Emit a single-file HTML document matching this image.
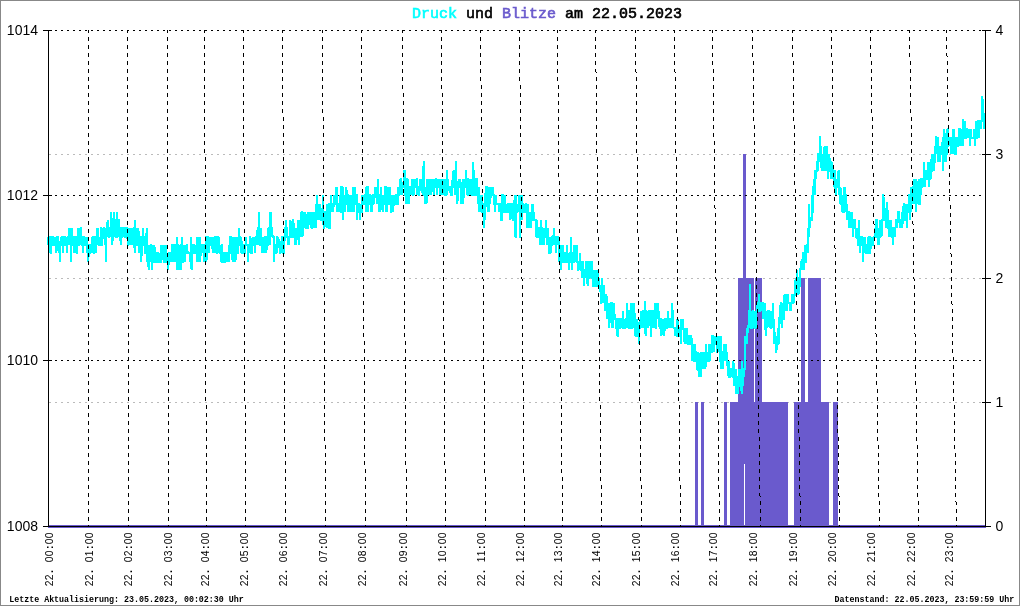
<!DOCTYPE html>
<html><head><meta charset="utf-8"><title>Druck und Blitze</title>
<style>html,body{margin:0;padding:0;background:#fff}svg{display:block;will-change:transform}text{font-family:"Liberation Sans",sans-serif}.m{font-family:"Liberation Mono",monospace}</style></head><body>
<svg width="1020" height="606" viewBox="0 0 1020 606">
<rect x="0" y="0" width="1020" height="606" fill="#fff"/>
<g shape-rendering="crispEdges">
<rect x="0.5" y="0.5" width="1019" height="605" fill="none" stroke="#888" stroke-width="1"/>
<line x1="49" y1="402.5" x2="985" y2="402.5" stroke="#bbb" stroke-width="1" stroke-dasharray="2 4"/>
<line x1="49" y1="278.5" x2="985" y2="278.5" stroke="#bbb" stroke-width="1" stroke-dasharray="2 4"/>
<line x1="49" y1="154.5" x2="985" y2="154.5" stroke="#bbb" stroke-width="1" stroke-dasharray="2 4"/>
<rect x="695" y="402" width="3" height="124" fill="#6a5acd"/>
<rect x="701" y="402" width="3" height="124" fill="#6a5acd"/>
<rect x="724" y="402" width="3" height="124" fill="#6a5acd"/>
<rect x="730" y="402" width="58" height="124" fill="#6a5acd"/>
<rect x="794" y="402" width="35" height="124" fill="#6a5acd"/>
<rect x="833" y="402" width="5" height="124" fill="#6a5acd"/>
<rect x="738" y="278" width="16" height="248" fill="#6a5acd"/>
<rect x="755" y="278" width="7" height="248" fill="#6a5acd"/>
<rect x="801" y="278" width="4" height="248" fill="#6a5acd"/>
<rect x="808" y="278" width="13" height="248" fill="#6a5acd"/>
<rect x="743" y="154" width="3" height="372" fill="#6a5acd"/>
<rect x="744" y="464" width="1" height="62" fill="#fff"/>
<rect x="48" y="525" width="938" height="3" fill="#6a5acd"/>
<line x1="49" y1="30.5" x2="985" y2="30.5" stroke="#000" stroke-width="1" stroke-dasharray="2 4"/>
<line x1="49" y1="195.5" x2="985" y2="195.5" stroke="#000" stroke-width="1" stroke-dasharray="2 4"/>
<line x1="49" y1="360.5" x2="985" y2="360.5" stroke="#000" stroke-width="1" stroke-dasharray="2 4"/>
<line x1="49" y1="526.5" x2="985" y2="526.5" stroke="#000" stroke-width="1" stroke-dasharray="2 4"/>
</g>
<polyline shape-rendering="crispEdges" fill="none" stroke="#00ffff" stroke-width="2" stroke-linejoin="miter" points="48.00,244.9 48.33,236.7 48.65,244.9 48.98,244.9 49.30,236.7 49.63,236.7 49.95,253.2 50.28,236.7 50.60,253.2 50.93,253.2 51.25,236.7 51.58,244.9 51.91,236.7 52.23,236.7 52.56,236.7 52.88,236.7 53.21,244.9 53.53,244.9 53.86,244.9 54.18,244.9 54.51,244.9 54.83,236.7 55.16,244.9 55.49,236.7 55.81,244.9 56.14,244.9 56.46,253.2 56.79,236.7 57.11,236.7 57.44,236.7 57.76,236.7 58.09,244.9 58.41,244.9 58.74,244.9 59.07,253.2 59.39,244.9 59.72,253.2 60.04,261.5 60.37,244.9 60.69,236.7 61.02,244.9 61.34,244.9 61.67,244.9 61.99,244.9 62.32,236.7 62.65,236.7 62.97,253.2 63.30,236.7 63.62,244.9 63.95,244.9 64.27,244.9 64.60,236.7 64.92,236.7 65.25,244.9 65.57,236.7 65.90,244.9 66.23,244.9 66.55,244.9 66.88,236.7 67.20,253.2 67.53,236.7 67.85,236.7 68.18,244.9 68.50,236.7 68.83,236.7 69.15,244.9 69.48,228.4 69.81,236.7 70.13,244.9 70.46,236.7 70.78,228.4 71.11,261.5 71.43,236.7 71.76,244.9 72.08,228.4 72.41,244.9 72.73,244.9 73.06,244.9 73.39,236.7 73.71,253.2 74.04,236.7 74.36,236.7 74.69,244.9 75.01,236.7 75.34,236.7 75.66,253.2 75.99,244.9 76.32,244.9 76.64,236.7 76.97,253.2 77.29,253.2 77.62,228.4 77.94,236.7 78.27,244.9 78.59,244.9 78.92,236.7 79.24,228.4 79.57,244.9 79.90,236.7 80.22,244.9 80.55,236.7 80.87,228.4 81.20,228.4 81.52,236.7 81.85,244.9 82.17,244.9 82.50,236.7 82.82,244.9 83.15,253.2 83.48,244.9 83.80,244.9 84.13,236.7 84.45,236.7 84.78,244.9 85.10,244.9 85.43,236.7 85.75,244.9 86.08,244.9 86.40,236.7 86.73,244.9 87.06,236.7 87.38,253.2 87.71,244.9 88.03,244.9 88.36,261.5 88.68,253.2 89.01,253.2 89.33,253.2 89.66,253.2 89.98,253.2 90.31,244.9 90.64,244.9 90.96,253.2 91.29,244.9 91.61,253.2 91.94,236.7 92.26,253.2 92.59,244.9 92.91,244.9 93.24,236.7 93.56,236.7 93.89,253.2 94.22,253.2 94.54,236.7 94.87,244.9 95.19,236.7 95.52,236.7 95.84,253.2 96.17,244.9 96.49,236.7 96.82,228.4 97.14,236.7 97.47,236.7 97.80,228.4 98.12,244.9 98.45,236.7 98.77,244.9 99.10,236.7 99.42,244.9 99.75,244.9 100.07,236.7 100.40,244.9 100.72,244.9 101.05,228.4 101.38,228.4 101.70,244.9 102.03,244.9 102.35,228.4 102.68,236.7 103.00,228.4 103.33,236.7 103.65,236.7 103.98,228.4 104.30,228.4 104.63,244.9 104.96,236.7 105.28,236.7 105.61,228.4 105.93,261.7 106.26,228.4 106.58,236.7 106.91,228.4 107.23,236.7 107.56,220.1 107.88,228.4 108.21,228.4 108.54,236.7 108.86,228.4 109.19,236.7 109.51,236.7 109.84,228.4 110.16,228.4 110.49,228.4 110.81,220.1 111.14,211.9 111.46,220.1 111.79,228.4 112.12,228.4 112.44,244.9 112.77,228.4 113.09,228.4 113.42,220.1 113.74,211.9 114.07,236.7 114.39,220.1 114.72,220.1 115.04,228.4 115.37,228.4 115.70,228.4 116.02,228.4 116.35,236.7 116.67,236.7 117.00,211.9 117.32,220.1 117.65,220.1 117.97,236.7 118.30,228.4 118.62,236.7 118.95,220.1 119.28,220.1 119.60,236.7 119.93,228.4 120.25,228.4 120.58,244.9 120.90,228.4 121.23,228.4 121.55,236.7 121.88,236.7 122.20,228.4 122.53,228.4 122.86,236.7 123.18,228.4 123.51,228.4 123.83,236.7 124.16,228.4 124.48,236.7 124.81,236.7 125.13,228.4 125.46,228.4 125.78,236.7 126.11,228.4 126.44,228.4 126.76,228.4 127.09,228.4 127.41,236.7 127.74,244.9 128.06,244.9 128.39,236.7 128.71,236.7 129.04,236.7 129.37,228.4 129.69,236.7 130.02,244.9 130.34,236.7 130.67,236.7 130.99,228.4 131.32,236.7 131.64,236.7 131.97,228.4 132.29,244.9 132.62,228.4 132.95,236.7 133.27,244.9 133.60,228.4 133.92,228.4 134.25,228.4 134.57,253.2 134.90,220.1 135.22,236.7 135.55,236.7 135.87,228.4 136.20,236.7 136.53,244.9 136.85,244.9 137.18,236.7 137.50,228.4 137.83,244.9 138.15,244.9 138.48,228.4 138.80,253.2 139.13,236.7 139.45,244.9 139.78,244.9 140.11,253.2 140.43,236.7 140.76,236.7 141.08,244.9 141.41,261.5 141.73,244.9 142.06,236.7 142.38,244.9 142.71,244.9 143.03,244.9 143.36,228.4 143.69,244.9 144.01,244.9 144.34,236.7 144.66,244.9 144.99,236.7 145.31,253.2 145.64,253.2 145.96,244.9 146.29,244.9 146.61,228.4 146.94,253.2 147.27,261.5 147.59,253.2 147.92,244.9 148.24,253.2 148.57,269.7 148.89,253.2 149.22,269.7 149.54,244.9 149.87,253.2 150.19,261.5 150.52,253.2 150.85,244.9 151.17,244.9 151.50,261.5 151.82,269.7 152.15,253.2 152.47,261.5 152.80,244.9 153.12,253.2 153.45,261.5 153.77,261.5 154.10,261.5 154.43,244.9 154.75,253.2 155.08,261.5 155.40,261.5 155.73,253.2 156.05,253.2 156.38,261.5 156.70,261.5 157.03,253.2 157.35,261.5 157.68,253.2 158.01,253.2 158.33,253.2 158.66,261.5 158.98,261.5 159.31,261.5 159.63,261.5 159.96,253.2 160.28,261.5 160.61,261.5 160.93,244.9 161.26,253.2 161.59,253.2 161.91,253.2 162.24,253.2 162.56,253.2 162.89,253.2 163.21,244.9 163.54,261.5 163.86,253.2 164.19,261.5 164.51,261.5 164.84,261.5 165.17,261.5 165.49,244.9 165.82,253.2 166.14,253.2 166.47,253.2 166.79,261.5 167.12,253.2 167.44,261.5 167.77,261.5 168.09,261.5 168.42,269.7 168.75,253.2 169.07,261.5 169.40,253.2 169.72,253.2 170.05,253.2 170.37,261.5 170.70,253.2 171.02,253.2 171.35,261.5 171.67,253.2 172.00,261.5 172.33,244.9 172.65,244.9 172.98,261.5 173.30,253.2 173.63,253.2 173.95,244.9 174.28,244.9 174.60,261.5 174.93,253.2 175.25,244.9 175.58,253.2 175.91,244.9 176.23,244.9 176.56,253.2 176.88,236.7 177.21,269.7 177.53,244.9 177.86,244.9 178.18,253.2 178.51,244.9 178.84,253.2 179.16,269.7 179.49,253.2 179.81,261.5 180.14,253.2 180.46,261.5 180.79,244.9 181.11,244.9 181.44,269.7 181.76,236.7 182.09,253.2 182.42,261.5 182.74,261.5 183.07,253.2 183.39,244.9 183.72,253.2 184.04,244.9 184.37,253.2 184.69,244.9 185.02,261.5 185.34,253.2 185.67,253.2 186.00,253.2 186.32,244.9 186.65,253.2 186.97,244.9 187.30,244.9 187.62,253.2 187.95,253.2 188.27,253.2 188.60,253.2 188.92,253.2 189.25,253.2 189.58,253.2 189.90,261.5 190.23,253.2 190.55,253.2 190.88,244.9 191.20,236.7 191.53,269.7 191.85,261.5 192.18,253.2 192.50,244.9 192.83,253.2 193.16,253.2 193.48,244.9 193.81,244.9 194.13,253.2 194.46,253.2 194.78,253.2 195.11,244.9 195.43,253.2 195.76,244.9 196.08,253.2 196.41,244.9 196.74,253.2 197.06,261.5 197.39,236.7 197.71,244.9 198.04,236.7 198.36,244.9 198.69,261.5 199.01,253.2 199.34,244.9 199.66,244.9 199.99,236.7 200.32,261.5 200.64,253.2 200.97,244.9 201.29,244.9 201.62,253.2 201.94,244.9 202.27,253.2 202.59,244.9 202.92,253.2 203.24,244.9 203.57,244.9 203.90,261.5 204.22,253.2 204.55,244.9 204.87,244.9 205.20,244.9 205.52,253.2 205.85,236.7 206.17,236.7 206.50,261.5 206.82,236.7 207.15,244.9 207.48,236.7 207.80,244.9 208.13,236.7 208.45,236.7 208.78,253.2 209.10,236.7 209.43,244.9 209.75,236.7 210.08,244.9 210.40,244.9 210.73,244.9 211.06,244.9 211.38,236.7 211.71,244.9 212.03,244.9 212.36,244.9 212.68,253.2 213.01,236.7 213.33,244.9 213.66,244.9 213.98,253.2 214.31,236.7 214.64,253.2 214.96,244.9 215.29,236.7 215.61,236.7 215.94,244.9 216.26,236.7 216.59,253.2 216.91,253.2 217.24,244.9 217.56,236.7 217.89,236.7 218.22,244.9 218.54,236.7 218.87,244.9 219.19,253.2 219.52,244.9 219.84,253.2 220.17,244.9 220.49,253.2 220.82,261.5 221.14,253.2 221.47,261.5 221.80,244.9 222.12,244.9 222.45,261.5 222.77,261.5 223.10,253.2 223.42,261.5 223.75,253.2 224.07,261.5 224.40,253.2 224.72,253.2 225.05,261.5 225.38,261.5 225.70,253.2 226.03,253.2 226.35,253.2 226.68,253.2 227.00,261.5 227.33,253.2 227.65,253.2 227.98,253.2 228.30,253.2 228.63,261.5 228.96,253.2 229.28,244.9 229.61,253.2 229.93,253.2 230.26,236.7 230.58,236.7 230.91,244.9 231.23,253.2 231.56,244.9 231.89,244.9 232.21,236.7 232.54,261.5 232.86,253.2 233.19,261.5 233.51,253.2 233.84,244.9 234.16,244.9 234.49,236.7 234.81,244.9 235.14,244.9 235.47,261.5 235.79,244.9 236.12,244.9 236.44,244.9 236.77,236.7 237.09,253.2 237.42,253.2 237.74,253.2 238.07,253.2 238.39,253.2 238.72,228.4 239.05,244.9 239.37,236.7 239.70,244.9 240.02,236.7 240.35,236.7 240.67,253.2 241.00,244.9 241.32,236.7 241.65,244.9 241.97,253.2 242.30,253.2 242.63,244.9 242.95,244.9 243.28,244.9 243.60,244.9 243.93,244.9 244.25,253.2 244.58,253.2 244.90,244.9 245.23,244.9 245.55,244.9 245.88,236.7 246.21,244.9 246.53,244.9 246.86,244.9 247.18,244.9 247.51,244.9 247.83,261.5 248.16,244.9 248.48,244.9 248.81,244.9 249.13,244.9 249.46,253.2 249.79,244.9 250.11,236.7 250.44,236.7 250.76,244.9 251.09,253.2 251.41,253.2 251.74,253.2 252.06,244.9 252.39,244.9 252.71,244.9 253.04,244.9 253.37,236.7 253.69,244.9 254.02,244.9 254.34,236.7 254.67,253.2 254.99,244.9 255.32,253.2 255.64,236.7 255.97,244.9 256.29,236.7 256.62,236.7 256.95,236.7 257.27,236.7 257.60,228.4 257.92,228.4 258.25,244.9 258.57,236.7 258.90,236.7 259.22,211.9 259.55,244.9 259.87,244.9 260.20,244.9 260.53,236.7 260.85,236.7 261.18,228.4 261.50,244.9 261.83,253.2 262.15,244.9 262.48,236.7 262.80,253.2 263.13,236.7 263.45,244.9 263.78,236.7 264.11,253.2 264.43,236.7 264.76,244.9 265.08,244.9 265.41,236.7 265.73,236.7 266.06,236.7 266.38,253.2 266.71,244.9 267.03,236.7 267.36,244.9 267.69,244.9 268.01,228.4 268.34,236.7 268.66,236.7 268.99,236.7 269.31,228.4 269.64,228.4 269.96,212.5 270.29,244.9 270.61,228.4 270.94,236.7 271.27,211.9 271.59,236.7 271.92,228.4 272.24,228.4 272.57,236.7 272.89,236.7 273.22,236.7 273.54,236.7 273.87,261.5 274.19,236.7 274.52,244.9 274.85,253.2 275.17,244.9 275.50,253.2 275.82,253.2 276.15,244.9 276.47,244.9 276.80,253.2 277.12,236.7 277.45,236.7 277.77,244.9 278.10,244.9 278.43,236.7 278.75,244.9 279.08,244.9 279.40,244.9 279.73,253.2 280.05,253.2 280.38,253.2 280.70,244.9 281.03,253.2 281.35,244.9 281.68,236.7 282.01,236.7 282.33,244.9 282.66,236.7 282.98,236.7 283.31,253.2 283.63,253.2 283.96,236.7 284.28,253.2 284.61,236.7 284.94,228.4 285.26,228.4 285.59,236.7 285.91,220.1 286.24,236.7 286.56,228.4 286.89,228.4 287.21,236.7 287.54,236.7 287.86,244.9 288.19,236.7 288.52,236.7 288.84,236.7 289.17,244.9 289.49,236.7 289.82,228.4 290.14,228.4 290.47,220.1 290.79,228.4 291.12,236.7 291.44,236.7 291.77,228.4 292.10,236.7 292.42,236.7 292.75,236.7 293.07,220.1 293.40,220.1 293.72,228.4 294.05,236.7 294.37,228.4 294.70,244.9 295.02,228.4 295.35,236.7 295.68,228.4 296.00,236.7 296.33,244.9 296.65,236.7 296.98,236.7 297.30,228.4 297.63,236.7 297.95,220.1 298.28,228.4 298.60,236.7 298.93,244.9 299.26,220.1 299.58,228.4 299.91,236.7 300.23,220.1 300.56,228.4 300.88,211.9 301.21,220.1 301.53,228.4 301.86,211.9 302.18,211.9 302.51,236.7 302.84,220.1 303.16,211.9 303.49,220.1 303.81,220.1 304.14,220.1 304.46,228.4 304.79,220.1 305.11,228.4 305.44,211.9 305.76,220.1 306.09,228.4 306.42,228.4 306.74,228.4 307.07,220.1 307.39,220.1 307.72,228.4 308.04,228.4 308.37,211.9 308.69,220.1 309.02,211.9 309.34,220.1 309.67,220.1 310.00,220.1 310.32,220.1 310.65,228.4 310.97,220.1 311.30,211.9 311.62,228.4 311.95,228.4 312.27,220.1 312.60,228.4 312.92,220.1 313.25,211.9 313.58,220.1 313.90,228.4 314.23,220.1 314.55,220.1 314.88,228.4 315.20,220.1 315.53,211.9 315.85,228.4 316.18,220.1 316.50,203.6 316.83,211.9 317.16,195.0 317.48,211.9 317.81,220.1 318.13,211.9 318.46,203.6 318.78,211.9 319.11,211.9 319.43,220.1 319.76,211.9 320.08,211.9 320.41,203.6 320.74,220.1 321.06,220.1 321.39,211.9 321.71,211.9 322.04,220.1 322.36,220.1 322.69,195.3 323.01,211.9 323.34,220.1 323.66,228.4 323.99,228.4 324.32,211.9 324.64,211.9 324.97,220.1 325.29,211.9 325.62,220.1 325.94,220.1 326.27,220.1 326.59,228.4 326.92,203.6 327.24,228.4 327.57,220.1 327.90,211.9 328.22,220.1 328.55,203.6 328.87,203.6 329.20,228.4 329.52,228.4 329.85,211.9 330.17,203.6 330.50,203.6 330.82,203.6 331.15,195.3 331.48,211.9 331.80,203.6 332.13,211.9 332.45,203.6 332.78,203.6 333.10,203.6 333.43,211.9 333.75,195.3 334.08,203.6 334.41,203.6 334.73,203.6 335.06,203.6 335.38,203.6 335.71,187.1 336.03,203.6 336.36,195.3 336.68,211.9 337.01,187.1 337.33,195.3 337.66,211.9 337.99,203.6 338.31,203.6 338.64,203.6 338.96,203.6 339.29,211.9 339.61,203.6 339.94,195.3 340.26,203.6 340.59,211.9 340.91,211.9 341.24,187.1 341.57,187.1 341.89,195.3 342.22,211.9 342.54,203.6 342.87,220.1 343.19,187.1 343.52,195.3 343.84,203.6 344.17,203.6 344.49,203.6 344.82,211.9 345.15,203.6 345.47,203.6 345.80,195.3 346.12,203.6 346.45,186.7 346.77,203.6 347.10,203.6 347.42,195.3 347.75,211.9 348.07,195.3 348.40,195.3 348.73,203.6 349.05,203.6 349.38,195.3 349.70,211.9 350.03,203.6 350.35,195.3 350.68,211.9 351.00,195.3 351.33,203.6 351.65,195.3 351.98,203.6 352.31,211.9 352.63,187.1 352.96,211.9 353.28,203.6 353.61,187.1 353.93,195.3 354.26,211.9 354.58,195.3 354.91,203.6 355.23,187.1 355.56,203.6 355.89,203.6 356.21,203.6 356.54,195.3 356.86,195.3 357.19,220.1 357.51,211.9 357.84,211.9 358.16,211.9 358.49,211.9 358.81,203.6 359.14,203.6 359.47,203.6 359.79,220.1 360.12,211.9 360.44,203.6 360.77,211.9 361.09,211.9 361.42,211.9 361.74,211.9 362.07,203.6 362.39,195.3 362.72,203.6 363.05,195.3 363.37,203.6 363.70,195.3 364.02,203.6 364.35,203.6 364.67,195.3 365.00,203.6 365.32,195.3 365.65,195.3 365.97,211.9 366.30,187.1 366.63,203.6 366.95,203.6 367.28,187.1 367.60,187.1 367.93,203.6 368.25,211.9 368.58,195.3 368.90,203.6 369.23,203.6 369.55,203.6 369.88,195.3 370.21,195.3 370.53,195.3 370.86,203.6 371.18,195.3 371.51,211.9 371.83,203.6 372.16,203.6 372.48,203.6 372.81,203.6 373.13,203.6 373.46,195.3 373.79,195.3 374.11,203.6 374.44,195.3 374.76,195.3 375.09,187.1 375.41,195.3 375.74,195.3 376.06,187.1 376.39,195.3 376.71,203.6 377.04,195.3 377.37,195.3 377.69,178.8 378.02,203.6 378.34,195.3 378.67,195.3 378.99,211.9 379.32,195.3 379.64,211.9 379.97,203.6 380.29,211.9 380.62,187.1 380.95,195.3 381.27,187.1 381.60,203.6 381.92,195.3 382.25,203.6 382.57,211.9 382.90,195.3 383.22,203.6 383.55,203.6 383.87,195.3 384.20,203.6 384.53,203.6 384.85,195.3 385.18,187.1 385.50,187.1 385.83,187.1 386.15,211.9 386.48,195.3 386.80,195.3 387.13,211.9 387.46,195.3 387.78,187.1 388.11,195.3 388.43,203.6 388.76,195.3 389.08,187.1 389.41,203.6 389.73,203.6 390.06,195.3 390.38,187.1 390.71,211.9 391.04,211.9 391.36,211.9 391.69,195.3 392.01,203.6 392.34,195.3 392.66,203.6 392.99,203.6 393.31,211.9 393.64,203.6 393.96,195.3 394.29,203.6 394.62,195.3 394.94,203.6 395.27,203.6 395.59,195.3 395.92,195.3 396.24,195.3 396.57,195.3 396.89,203.6 397.22,203.6 397.54,203.6 397.87,203.6 398.20,187.1 398.52,195.3 398.85,195.3 399.17,187.1 399.50,195.3 399.82,187.1 400.15,178.8 400.47,195.3 400.80,187.1 401.12,178.8 401.45,178.8 401.78,195.3 402.10,187.1 402.43,187.1 402.75,187.1 403.08,187.1 403.40,187.1 403.73,187.1 404.05,170.5 404.38,187.1 404.70,187.1 405.03,170.5 405.36,195.3 405.68,195.3 406.01,203.6 406.33,178.8 406.66,178.8 406.98,178.8 407.31,187.1 407.63,178.8 407.96,195.3 408.28,203.6 408.61,195.3 408.94,187.1 409.26,203.6 409.59,187.1 409.91,187.1 410.24,187.1 410.56,195.3 410.89,187.1 411.21,187.1 411.54,187.1 411.86,195.3 412.19,187.1 412.52,178.8 412.84,195.3 413.17,195.3 413.49,187.1 413.82,195.3 414.14,178.8 414.47,187.1 414.79,187.1 415.12,187.1 415.44,187.1 415.77,178.8 416.10,187.1 416.42,187.1 416.75,178.8 417.07,178.8 417.40,195.3 417.72,187.1 418.05,187.1 418.37,195.3 418.70,187.1 419.02,195.3 419.35,195.3 419.68,187.1 420.00,178.8 420.33,187.1 420.65,187.1 420.98,178.8 421.30,187.1 421.63,187.1 421.95,178.8 422.28,187.1 422.60,195.3 422.93,187.1 423.26,187.1 423.58,161.0 423.91,195.3 424.23,195.3 424.56,187.1 424.88,203.6 425.21,195.3 425.53,195.3 425.86,195.3 426.18,195.3 426.51,203.6 426.84,195.3 427.16,178.8 427.49,195.3 427.81,178.8 428.14,187.1 428.46,178.8 428.79,195.3 429.11,187.1 429.44,178.8 429.76,195.3 430.09,187.1 430.42,178.8 430.74,195.3 431.07,187.1 431.39,187.1 431.72,187.1 432.04,187.1 432.37,178.8 432.69,187.1 433.02,187.1 433.34,187.1 433.67,195.3 434.00,178.8 434.32,187.1 434.65,187.1 434.97,187.1 435.30,187.1 435.62,178.8 435.95,178.8 436.27,187.1 436.60,187.1 436.92,195.3 437.25,178.8 437.58,187.1 437.90,187.1 438.23,187.1 438.55,187.1 438.88,178.8 439.20,187.1 439.53,187.1 439.85,195.3 440.18,187.1 440.51,187.1 440.83,178.8 441.16,187.1 441.48,195.3 441.81,187.1 442.13,178.8 442.46,187.1 442.78,178.8 443.11,187.1 443.43,195.3 443.76,178.8 444.09,195.3 444.41,178.8 444.74,195.3 445.06,187.1 445.39,195.3 445.71,195.3 446.04,178.8 446.36,195.3 446.69,187.1 447.01,170.5 447.34,195.3 447.67,187.1 447.99,178.8 448.32,187.1 448.64,187.1 448.97,187.1 449.29,187.1 449.62,187.1 449.94,187.1 450.27,187.1 450.59,195.3 450.92,195.3 451.25,187.1 451.57,195.3 451.90,195.3 452.22,187.1 452.55,178.8 452.87,187.1 453.20,187.1 453.52,170.5 453.85,187.1 454.17,178.8 454.50,187.1 454.83,187.1 455.15,195.3 455.48,178.8 455.80,187.1 456.13,161.0 456.45,178.8 456.78,187.1 457.10,195.3 457.43,203.6 457.75,195.3 458.08,195.3 458.41,187.1 458.73,187.1 459.06,178.8 459.38,187.1 459.71,187.1 460.03,187.1 460.36,178.8 460.68,187.1 461.01,203.6 461.33,195.3 461.66,195.3 461.99,203.6 462.31,187.1 462.64,178.8 462.96,187.1 463.29,203.6 463.61,195.3 463.94,178.8 464.26,187.1 464.59,187.1 464.91,187.1 465.24,187.1 465.57,187.1 465.89,170.5 466.22,178.8 466.54,187.1 466.87,195.3 467.19,178.8 467.52,195.3 467.84,195.3 468.17,178.8 468.49,178.8 468.82,187.1 469.15,187.1 469.47,187.1 469.80,187.1 470.12,178.8 470.45,195.3 470.77,187.1 471.10,187.1 471.42,187.1 471.75,195.3 472.07,195.3 472.40,178.8 472.73,187.1 473.05,162.3 473.38,187.1 473.70,170.5 474.03,187.1 474.35,195.3 474.68,195.3 475.00,187.1 475.33,195.3 475.65,195.3 475.98,187.1 476.31,178.8 476.63,178.8 476.96,187.1 477.28,195.3 477.61,195.3 477.93,187.1 478.26,203.6 478.58,187.1 478.91,203.6 479.23,211.9 479.56,203.6 479.89,211.9 480.21,203.6 480.54,203.6 480.86,203.6 481.19,203.6 481.51,195.3 481.84,203.6 482.16,203.6 482.49,211.9 482.81,211.9 483.14,203.6 483.47,203.6 483.79,211.9 484.12,211.9 484.44,228.0 484.77,195.3 485.09,211.9 485.42,195.3 485.74,187.1 486.07,203.6 486.39,187.1 486.72,187.1 487.05,187.1 487.37,203.6 487.70,211.9 488.02,187.1 488.35,195.3 488.67,211.9 489.00,195.3 489.32,187.1 489.65,203.6 489.97,187.1 490.30,203.6 490.63,195.3 490.95,195.3 491.28,187.1 491.60,195.3 491.93,195.3 492.25,195.3 492.58,187.1 492.90,195.3 493.23,195.3 493.56,195.3 493.88,203.6 494.21,203.6 494.53,203.6 494.86,211.9 495.18,195.3 495.51,203.6 495.83,203.6 496.16,195.3 496.48,203.6 496.81,203.6 497.14,203.6 497.46,203.6 497.79,203.6 498.11,203.6 498.44,203.6 498.76,203.6 499.09,211.9 499.41,203.6 499.74,211.9 500.06,203.6 500.39,203.6 500.72,211.9 501.04,203.6 501.37,220.1 501.69,220.1 502.02,195.3 502.34,195.3 502.67,195.3 502.99,211.9 503.32,211.9 503.64,203.6 503.97,203.6 504.30,203.6 504.62,211.9 504.95,195.3 505.27,211.9 505.60,211.9 505.92,211.9 506.25,203.6 506.57,211.9 506.90,211.9 507.22,211.9 507.55,203.6 507.88,203.6 508.20,203.6 508.53,203.6 508.85,203.6 509.18,211.9 509.50,211.9 509.83,203.6 510.15,211.9 510.48,220.1 510.80,211.9 511.13,203.6 511.46,203.6 511.78,211.9 512.11,211.9 512.43,203.6 512.76,203.6 513.08,203.6 513.41,220.1 513.73,220.1 514.06,220.1 514.38,203.6 514.71,195.3 515.04,236.7 515.36,203.6 515.69,195.3 516.01,237.5 516.34,211.9 516.66,211.9 516.99,203.6 517.31,211.9 517.64,203.6 517.96,211.9 518.29,203.6 518.62,211.9 518.94,195.3 519.27,203.6 519.59,211.9 519.92,237.5 520.24,211.9 520.57,211.9 520.89,211.9 521.22,195.3 521.54,220.1 521.87,195.3 522.20,220.1 522.52,211.9 522.85,211.9 523.17,203.6 523.50,203.6 523.82,211.9 524.15,203.6 524.47,211.9 524.80,203.6 525.12,211.9 525.45,211.9 525.78,211.9 526.10,203.6 526.43,203.6 526.75,220.1 527.08,228.4 527.40,211.9 527.73,203.6 528.05,220.1 528.38,220.1 528.70,220.1 529.03,228.4 529.36,220.1 529.68,228.4 530.01,211.9 530.33,220.1 530.66,220.1 530.98,211.9 531.31,228.4 531.63,203.6 531.96,211.9 532.28,220.1 532.61,220.1 532.94,203.6 533.26,220.1 533.59,211.9 533.91,220.1 534.24,220.1 534.56,220.1 534.89,220.1 535.21,220.1 535.54,220.1 535.86,220.1 536.19,228.4 536.52,236.7 536.84,236.7 537.17,220.1 537.49,236.7 537.82,236.7 538.14,236.7 538.47,236.7 538.79,236.7 539.12,228.4 539.44,228.4 539.77,244.9 540.10,236.7 540.42,228.4 540.75,244.9 541.07,220.1 541.40,228.4 541.72,228.4 542.05,236.7 542.37,228.4 542.70,236.7 543.03,244.9 543.35,228.4 543.68,244.9 544.00,236.7 544.33,228.4 544.65,236.7 544.98,228.4 545.30,236.7 545.63,228.4 545.95,220.1 546.28,236.7 546.61,236.7 546.93,228.4 547.26,244.9 547.58,236.7 547.91,228.4 548.23,244.9 548.56,236.7 548.88,253.2 549.21,253.2 549.53,244.9 549.86,253.2 550.19,253.2 550.51,244.9 550.84,253.2 551.16,236.7 551.49,244.9 551.81,244.9 552.14,244.9 552.46,236.7 552.79,236.7 553.11,236.7 553.44,236.7 553.77,228.4 554.09,244.9 554.42,236.7 554.74,236.7 555.07,236.7 555.39,236.7 555.72,253.2 556.04,236.7 556.37,244.9 556.69,236.7 557.02,244.9 557.35,236.7 557.67,236.7 558.00,244.9 558.32,236.7 558.65,244.9 558.97,261.5 559.30,253.2 559.62,253.2 559.95,253.2 560.27,253.2 560.60,244.9 560.93,269.7 561.25,253.2 561.58,253.2 561.90,253.2 562.23,253.2 562.55,261.5 562.88,244.9 563.20,261.5 563.53,261.5 563.85,261.5 564.18,253.2 564.51,261.5 564.83,253.2 565.16,253.2 565.48,261.5 565.81,253.2 566.13,261.5 566.46,261.5 566.78,244.9 567.11,253.2 567.43,261.5 567.76,261.5 568.09,253.2 568.41,261.5 568.74,253.2 569.06,269.7 569.39,261.5 569.71,253.2 570.04,253.2 570.36,253.2 570.69,261.5 571.01,261.5 571.34,236.7 571.67,269.7 571.99,261.5 572.32,253.2 572.64,253.2 572.97,253.2 573.29,261.5 573.62,261.5 573.94,261.5 574.27,244.9 574.59,253.2 574.92,253.2 575.25,261.5 575.57,244.9 575.90,261.5 576.22,253.2 576.55,253.2 576.87,244.9 577.20,261.5 577.52,261.5 577.85,269.7 578.17,269.7 578.50,261.5 578.83,261.5 579.15,269.7 579.48,261.5 579.80,261.5 580.13,253.2 580.45,261.5 580.78,269.7 581.10,269.7 581.43,269.7 581.75,261.5 582.08,261.5 582.41,278.0 582.73,269.7 583.06,269.7 583.38,261.5 583.71,286.3 584.03,269.7 584.36,269.7 584.68,278.0 585.01,269.7 585.33,269.7 585.66,278.0 585.99,261.5 586.31,261.5 586.64,261.5 586.96,269.7 587.29,278.0 587.61,286.3 587.94,278.0 588.26,269.7 588.59,278.0 588.91,278.0 589.24,261.5 589.57,261.5 589.89,269.7 590.22,269.7 590.54,261.5 590.87,269.7 591.19,278.0 591.52,261.5 591.84,278.0 592.17,278.0 592.49,269.7 592.82,278.0 593.15,278.0 593.47,286.3 593.80,286.3 594.12,286.3 594.45,278.0 594.77,278.0 595.10,278.0 595.42,269.7 595.75,286.3 596.08,286.3 596.40,286.3 596.73,286.3 597.05,278.0 597.38,269.7 597.70,286.3 598.03,278.0 598.35,269.7 598.68,286.3 599.00,286.3 599.33,286.3 599.66,286.3 599.98,286.3 600.31,286.3 600.63,294.5 600.96,302.8 601.28,302.8 601.61,294.5 601.93,278.0 602.26,294.5 602.58,294.5 602.91,286.3 603.24,302.8 603.56,286.3 603.89,286.3 604.21,294.5 604.54,302.8 604.86,302.8 605.19,311.1 605.51,294.5 605.84,302.8 606.16,302.8 606.49,294.5 606.82,319.3 607.14,302.8 607.47,319.3 607.79,311.1 608.12,311.1 608.44,311.1 608.77,302.8 609.09,319.3 609.42,327.6 609.74,311.1 610.07,311.1 610.40,319.3 610.72,302.8 611.05,311.1 611.37,302.8 611.70,302.8 612.02,319.3 612.35,327.6 612.67,311.1 613.00,327.6 613.32,311.1 613.65,319.3 613.98,319.3 614.30,302.8 614.63,319.3 614.95,319.3 615.28,319.3 615.60,319.3 615.93,327.6 616.25,327.6 616.58,319.3 616.90,319.3 617.23,335.9 617.56,327.6 617.88,335.9 618.21,335.9 618.53,327.6 618.86,319.3 619.18,319.3 619.51,319.3 619.83,327.6 620.16,327.6 620.48,319.3 620.81,319.3 621.14,319.3 621.46,327.6 621.79,319.3 622.11,327.6 622.44,319.3 622.76,319.3 623.09,311.1 623.41,327.6 623.74,327.6 624.06,319.3 624.39,327.6 624.72,319.3 625.04,327.6 625.37,327.6 625.69,319.3 626.02,319.3 626.34,319.3 626.67,327.6 626.99,302.8 627.32,311.1 627.64,311.1 627.97,327.6 628.30,311.1 628.62,327.6 628.95,327.6 629.27,319.3 629.60,327.6 629.92,319.3 630.25,311.1 630.57,311.1 630.90,302.8 631.22,327.6 631.55,327.6 631.88,311.1 632.20,311.1 632.53,319.3 632.85,327.6 633.18,319.3 633.50,302.8 633.83,311.1 634.15,311.1 634.48,311.1 634.80,327.6 635.13,327.6 635.46,335.9 635.78,327.6 636.11,335.9 636.43,335.9 636.76,335.9 637.08,327.6 637.41,319.3 637.73,327.6 638.06,335.9 638.38,327.6 638.71,327.6 639.04,344.1 639.36,327.6 639.69,319.3 640.01,327.6 640.34,327.6 640.66,311.1 640.99,327.6 641.31,319.3 641.64,319.3 641.96,327.6 642.29,319.3 642.62,311.1 642.94,311.1 643.27,319.3 643.59,327.6 643.92,311.1 644.24,319.3 644.57,319.3 644.89,301.0 645.22,319.3 645.54,335.9 645.87,311.1 646.20,311.1 646.52,311.1 646.85,319.3 647.17,327.6 647.50,319.3 647.82,327.6 648.15,319.3 648.47,327.6 648.80,311.1 649.13,311.1 649.45,319.3 649.78,319.3 650.10,319.3 650.43,319.3 650.75,335.9 651.08,335.9 651.40,311.1 651.73,311.1 652.05,319.3 652.38,319.3 652.71,319.3 653.03,327.6 653.36,319.3 653.68,327.6 654.01,311.1 654.33,311.1 654.66,319.3 654.98,319.3 655.31,302.8 655.63,327.6 655.96,327.6 656.29,311.1 656.61,311.1 656.94,319.3 657.26,302.8 657.59,319.3 657.91,302.8 658.24,311.1 658.56,319.3 658.89,311.1 659.21,319.3 659.54,327.6 659.87,327.6 660.19,319.3 660.52,319.3 660.84,319.3 661.17,327.6 661.49,335.9 661.82,319.3 662.14,327.6 662.47,327.6 662.79,327.6 663.12,327.6 663.45,327.6 663.77,319.3 664.10,327.6 664.42,335.9 664.75,319.3 665.07,319.3 665.40,327.6 665.72,319.3 666.05,319.3 666.37,319.3 666.70,319.3 667.03,327.6 667.35,327.6 667.68,311.1 668.00,319.3 668.33,319.3 668.65,327.6 668.98,319.3 669.30,319.3 669.63,319.3 669.95,319.3 670.28,319.3 670.61,327.6 670.93,319.3 671.26,319.3 671.58,327.6 671.91,302.8 672.23,319.3 672.56,311.1 672.88,311.1 673.21,319.3 673.53,327.6 673.86,327.6 674.19,327.6 674.51,327.6 674.84,335.9 675.16,327.6 675.49,327.6 675.81,327.6 676.14,327.6 676.46,335.9 676.79,319.3 677.11,335.9 677.44,335.9 677.77,335.9 678.09,319.3 678.42,327.6 678.74,327.6 679.07,335.9 679.39,335.9 679.72,335.9 680.04,327.6 680.37,327.6 680.69,335.9 681.02,344.1 681.35,319.3 681.67,327.6 682.00,327.6 682.32,327.6 682.65,319.3 682.97,327.6 683.30,319.3 683.62,335.9 683.95,327.6 684.27,335.9 684.60,344.1 684.93,335.9 685.25,335.9 685.58,344.1 685.90,327.6 686.23,344.1 686.55,335.9 686.88,327.6 687.20,344.1 687.53,335.9 687.85,344.1 688.18,344.1 688.51,344.1 688.83,335.9 689.16,335.9 689.48,344.1 689.81,335.9 690.13,344.1 690.46,344.1 690.78,335.9 691.11,335.9 691.43,335.9 691.76,344.1 692.09,352.4 692.41,360.7 692.74,344.1 693.06,352.4 693.39,352.4 693.71,344.1 694.04,360.7 694.36,360.7 694.69,344.1 695.01,352.4 695.34,352.4 695.67,352.4 695.99,360.7 696.32,360.7 696.64,360.7 696.97,368.9 697.29,368.9 697.62,368.9 697.94,368.9 698.27,352.4 698.59,377.2 698.92,368.9 699.25,360.7 699.57,360.7 699.90,360.7 700.22,360.7 700.55,352.4 700.87,368.9 701.20,377.2 701.52,360.7 701.85,352.4 702.18,368.9 702.50,360.7 702.83,360.7 703.15,360.7 703.48,368.9 703.80,352.4 704.13,360.7 704.45,360.7 704.78,360.7 705.10,360.7 705.43,368.9 705.76,360.7 706.08,344.1 706.41,360.7 706.73,360.7 707.06,360.7 707.38,360.7 707.71,360.7 708.03,352.4 708.36,360.7 708.68,360.7 709.01,360.7 709.34,344.1 709.66,352.4 709.99,360.7 710.31,352.4 710.64,352.4 710.96,352.4 711.29,344.1 711.61,352.4 711.94,352.4 712.26,335.9 712.59,335.9 712.92,352.4 713.24,335.9 713.57,344.1 713.89,344.1 714.22,352.4 714.54,344.1 714.87,335.9 715.19,344.1 715.52,344.1 715.84,335.9 716.17,344.1 716.50,344.1 716.82,352.4 717.15,352.4 717.47,344.1 717.80,335.9 718.12,344.1 718.45,352.4 718.77,344.1 719.10,352.4 719.42,335.9 719.75,360.7 720.08,360.7 720.40,352.4 720.73,344.1 721.05,335.9 721.38,368.9 721.70,352.4 722.03,360.7 722.35,352.4 722.68,368.9 723.00,352.4 723.33,352.4 723.66,352.4 723.98,360.7 724.31,344.1 724.63,360.7 724.96,352.4 725.28,352.4 725.61,360.7 725.93,344.1 726.26,360.7 726.58,352.4 726.91,360.7 727.24,352.4 727.56,368.9 727.89,368.9 728.21,360.7 728.54,377.2 728.86,368.9 729.19,360.7 729.51,377.2 729.84,377.2 730.16,377.2 730.49,368.9 730.82,368.9 731.14,377.2 731.47,368.9 731.79,368.9 732.12,377.2 732.44,368.9 732.77,377.2 733.09,377.2 733.42,360.7 733.74,368.9 734.07,385.5 734.40,377.2 734.72,385.5 735.05,377.2 735.37,385.5 735.70,368.9 736.02,385.5 736.35,393.7 736.67,377.2 737.00,377.2 737.32,385.5 737.65,377.2 737.98,393.7 738.30,377.2 738.63,377.2 738.95,377.2 739.28,368.9 739.60,377.2 739.93,385.5 740.25,385.5 740.58,377.2 740.90,377.2 741.23,368.9 741.56,393.7 741.88,360.7 742.21,385.5 742.53,385.5 742.86,377.2 743.18,377.2 743.51,377.2 743.83,368.9 744.16,368.9 744.48,368.9 744.81,368.9 745.14,352.4 745.46,335.9 745.79,344.1 746.11,335.9 746.44,344.1 746.76,327.6 747.09,344.1 747.41,335.9 747.74,327.6 748.06,327.6 748.39,327.6 748.72,319.3 749.04,311.1 749.37,311.1 749.69,327.6 750.02,284.0 750.34,319.3 750.67,327.6 750.99,327.6 751.32,327.6 751.65,327.6 751.97,311.1 752.30,319.3 752.62,311.1 752.95,311.1 753.27,327.6 753.60,319.3 753.92,319.3 754.25,311.1 754.57,319.3 754.90,311.1 755.23,327.6 755.55,327.6 755.88,319.3 756.20,327.6 756.53,311.1 756.85,311.1 757.18,302.8 757.50,302.8 757.83,302.8 758.15,302.8 758.48,311.1 758.81,294.5 759.13,311.1 759.46,311.1 759.78,311.1 760.11,302.8 760.43,302.8 760.76,302.8 761.08,302.8 761.41,311.1 761.73,302.8 762.06,302.8 762.39,302.8 762.71,302.8 763.04,302.8 763.36,319.3 763.69,311.1 764.01,311.1 764.34,319.3 764.66,311.1 764.99,302.8 765.31,319.3 765.64,335.9 765.97,311.1 766.29,319.3 766.62,319.3 766.94,327.6 767.27,311.1 767.59,319.3 767.92,319.3 768.24,311.1 768.57,311.1 768.89,311.1 769.22,319.3 769.55,327.6 769.87,311.1 770.20,319.3 770.52,327.6 770.85,327.6 771.17,311.1 771.50,327.6 771.82,319.3 772.15,311.1 772.47,319.3 772.80,302.8 773.13,311.1 773.45,327.6 773.78,319.3 774.10,344.1 774.43,327.6 774.75,344.1 775.08,335.9 775.40,344.1 775.73,335.9 776.05,344.1 776.38,353.0 776.71,344.1 777.03,344.1 777.36,344.1 777.68,344.1 778.01,344.1 778.33,327.6 778.66,344.1 778.98,327.6 779.31,327.6 779.63,311.1 779.96,311.1 780.29,311.1 780.61,302.8 780.94,302.8 781.26,311.1 781.59,327.6 781.91,311.1 782.24,302.8 782.56,319.3 782.89,302.8 783.21,319.3 783.54,302.8 783.87,319.3 784.19,319.3 784.52,294.5 784.84,302.8 785.17,302.8 785.49,302.8 785.82,311.1 786.14,294.5 786.47,311.1 786.79,302.8 787.12,311.1 787.45,294.5 787.77,302.8 788.10,294.5 788.42,302.8 788.75,302.8 789.07,302.8 789.40,302.8 789.72,302.8 790.05,311.1 790.37,302.8 790.70,311.1 791.03,302.8 791.35,302.8 791.68,302.8 792.00,294.5 792.33,302.8 792.65,294.5 792.98,302.8 793.30,302.8 793.63,294.5 793.95,302.8 794.28,294.5 794.61,294.5 794.93,294.5 795.26,286.3 795.58,278.0 795.91,294.5 796.23,294.5 796.56,286.3 796.88,286.3 797.21,269.7 797.53,278.0 797.86,278.0 798.19,278.0 798.51,294.5 798.84,286.3 799.16,286.3 799.49,286.3 799.81,286.3 800.14,269.7 800.46,269.7 800.79,261.5 801.11,269.7 801.44,261.5 801.77,261.5 802.09,269.7 802.42,261.5 802.74,253.2 803.07,253.2 803.39,261.5 803.72,269.7 804.04,261.5 804.37,261.5 804.70,261.5 805.02,244.9 805.35,253.2 805.67,261.5 806.00,261.5 806.32,253.2 806.65,244.9 806.97,244.9 807.30,253.2 807.62,244.9 807.95,253.2 808.28,228.4 808.60,236.7 808.93,211.9 809.25,203.6 809.58,220.1 809.90,228.4 810.23,220.1 810.55,220.1 810.88,220.1 811.20,220.1 811.53,220.1 811.86,220.1 812.18,195.3 812.51,211.9 812.83,211.9 813.16,195.3 813.48,187.1 813.81,178.8 814.13,187.1 814.46,187.1 814.78,187.1 815.11,195.3 815.44,170.5 815.76,178.8 816.09,170.5 816.41,170.5 816.74,170.5 817.06,170.5 817.39,162.3 817.71,162.3 818.04,170.5 818.36,154.0 818.69,154.0 819.02,154.0 819.34,154.0 819.67,154.0 819.99,136.0 820.32,162.3 820.64,154.0 820.97,145.7 821.29,162.3 821.62,170.5 821.94,162.3 822.27,162.3 822.60,154.0 822.92,170.5 823.25,154.0 823.57,170.5 823.90,162.3 824.22,154.0 824.55,145.7 824.87,162.3 825.20,145.7 825.52,162.3 825.85,170.5 826.18,162.3 826.50,145.7 826.83,162.3 827.15,162.3 827.48,162.3 827.80,162.3 828.13,178.8 828.45,170.5 828.78,162.3 829.10,162.3 829.43,154.0 829.76,170.5 830.08,170.5 830.41,162.3 830.73,162.3 831.06,178.8 831.38,170.5 831.71,170.5 832.03,170.5 832.36,162.3 832.68,170.5 833.01,170.5 833.34,178.8 833.66,170.5 833.99,178.8 834.31,187.1 834.64,170.5 834.96,187.1 835.29,178.8 835.61,195.3 835.94,178.8 836.26,187.1 836.59,178.8 836.92,187.1 837.24,187.1 837.57,178.8 837.89,187.1 838.22,178.8 838.54,170.5 838.87,170.5 839.19,178.8 839.52,195.3 839.84,187.1 840.17,203.6 840.50,187.1 840.82,203.6 841.15,203.6 841.47,203.6 841.80,203.6 842.12,203.6 842.45,211.9 842.77,195.3 843.10,211.9 843.42,211.9 843.75,211.9 844.08,187.1 844.40,195.3 844.73,203.6 845.05,211.9 845.38,187.1 845.70,203.6 846.03,211.9 846.35,203.6 846.68,211.9 847.00,203.6 847.33,220.1 847.66,211.9 847.98,211.9 848.31,220.1 848.63,211.9 848.96,211.9 849.28,228.4 849.61,220.1 849.93,211.9 850.26,220.1 850.58,211.9 850.91,228.4 851.24,220.1 851.56,211.9 851.89,228.4 852.21,220.1 852.54,228.4 852.86,236.7 853.19,220.1 853.51,220.1 853.84,228.4 854.16,220.1 854.49,220.1 854.82,220.1 855.14,228.4 855.47,228.4 855.79,236.7 856.12,236.7 856.44,236.7 856.77,236.7 857.09,228.4 857.42,236.7 857.75,244.9 858.07,244.9 858.40,244.9 858.72,220.1 859.05,236.7 859.37,244.9 859.70,244.9 860.02,253.2 860.35,244.9 860.67,244.9 861.00,244.9 861.33,236.7 861.65,236.7 861.98,236.7 862.30,236.7 862.63,244.9 862.95,253.2 863.28,261.5 863.60,244.9 863.93,236.7 864.25,244.9 864.58,244.9 864.91,253.2 865.23,236.7 865.56,244.9 865.88,253.2 866.21,253.2 866.53,253.2 866.86,253.2 867.18,244.9 867.51,253.2 867.83,236.7 868.16,244.9 868.49,244.9 868.81,253.2 869.14,253.2 869.46,236.7 869.79,236.7 870.11,253.2 870.44,253.2 870.76,236.7 871.09,244.9 871.41,244.9 871.74,236.7 872.07,244.9 872.39,236.7 872.72,244.9 873.04,244.9 873.37,244.9 873.69,236.7 874.02,236.7 874.34,236.7 874.67,236.7 874.99,228.4 875.32,236.7 875.65,236.7 875.97,220.1 876.30,220.1 876.62,220.1 876.95,228.4 877.27,228.4 877.60,236.7 877.92,244.9 878.25,236.7 878.57,228.4 878.90,236.7 879.23,244.9 879.55,236.7 879.88,236.7 880.20,220.1 880.53,228.4 880.85,228.4 881.18,228.4 881.50,236.7 881.83,228.4 882.15,228.4 882.48,220.1 882.81,220.1 883.13,211.9 883.46,194.0 883.78,211.9 884.11,220.1 884.43,203.6 884.76,220.1 885.08,220.1 885.41,220.1 885.73,220.1 886.06,220.1 886.39,228.4 886.71,220.1 887.04,228.4 887.36,202.5 887.69,220.1 888.01,228.4 888.34,228.4 888.66,220.1 888.99,228.4 889.31,236.7 889.64,228.4 889.97,220.1 890.29,236.7 890.62,220.1 890.94,228.4 891.27,220.1 891.59,236.7 891.92,236.7 892.24,228.4 892.57,228.4 892.89,236.7 893.22,244.9 893.55,228.4 893.87,228.4 894.20,236.7 894.52,228.4 894.85,228.4 895.17,236.7 895.50,228.4 895.82,220.1 896.15,220.1 896.47,220.1 896.80,220.1 897.13,228.4 897.45,220.1 897.78,220.1 898.10,211.9 898.43,211.9 898.75,211.9 899.08,220.1 899.40,220.1 899.73,228.4 900.05,220.1 900.38,220.1 900.71,228.4 901.03,220.1 901.36,220.1 901.68,228.4 902.01,211.9 902.33,228.4 902.66,220.1 902.98,211.9 903.31,211.9 903.63,203.6 903.96,203.6 904.29,211.9 904.61,211.9 904.94,220.1 905.26,220.1 905.59,220.1 905.91,220.1 906.24,203.6 906.56,220.1 906.89,211.9 907.22,228.4 907.54,211.9 907.87,203.6 908.19,211.9 908.52,203.6 908.84,211.9 909.17,195.3 909.49,195.3 909.82,220.1 910.14,211.9 910.47,203.6 910.80,203.6 911.12,211.9 911.45,187.1 911.77,203.6 912.10,187.1 912.42,195.3 912.75,195.3 913.07,187.1 913.40,187.1 913.72,203.6 914.05,178.8 914.38,187.1 914.70,195.3 915.03,195.3 915.35,203.6 915.68,195.3 916.00,178.8 916.33,211.9 916.65,187.1 916.98,195.3 917.30,187.1 917.63,195.3 917.96,203.6 918.28,187.1 918.61,178.8 918.93,195.3 919.26,203.6 919.58,203.6 919.91,187.1 920.23,187.1 920.56,178.8 920.88,178.8 921.21,195.3 921.54,178.8 921.86,187.1 922.19,187.1 922.51,178.8 922.84,178.8 923.16,178.8 923.49,178.8 923.81,187.1 924.14,162.3 924.46,178.8 924.79,187.1 925.12,170.5 925.44,178.8 925.77,178.8 926.09,170.5 926.42,178.8 926.74,178.8 927.07,178.8 927.39,178.8 927.72,162.3 928.04,170.5 928.37,178.8 928.70,170.5 929.02,187.1 929.35,162.3 929.67,170.5 930.00,178.8 930.32,178.8 930.65,170.5 930.97,178.8 931.30,170.5 931.62,154.0 931.95,170.5 932.28,170.5 932.60,162.3 932.93,170.5 933.25,154.0 933.58,162.3 933.90,170.5 934.23,162.3 934.55,162.3 934.88,162.3 935.20,145.7 935.53,154.0 935.86,136.0 936.18,137.5 936.51,145.7 936.83,145.7 937.16,154.0 937.48,145.7 937.81,137.5 938.13,154.0 938.46,162.3 938.78,154.0 939.11,154.0 939.44,154.0 939.76,154.0 940.09,162.3 940.41,145.7 940.74,154.0 941.06,154.0 941.39,154.0 941.71,154.0 942.04,145.7 942.36,145.7 942.69,137.5 943.02,170.5 943.34,145.7 943.67,137.5 943.99,154.0 944.32,129.2 944.64,162.3 944.97,137.5 945.29,145.7 945.62,137.5 945.94,162.3 946.27,145.7 946.60,129.2 946.92,154.0 947.25,154.0 947.57,145.7 947.90,129.2 948.22,129.2 948.55,145.7 948.87,137.5 949.20,145.7 949.52,137.5 949.85,137.5 950.18,137.5 950.50,145.7 950.83,154.0 951.15,137.5 951.48,154.0 951.80,137.5 952.13,145.7 952.45,154.0 952.78,145.7 953.10,129.2 953.43,145.7 953.76,145.7 954.08,129.2 954.41,154.0 954.73,145.7 955.06,145.7 955.38,154.0 955.71,154.0 956.03,137.5 956.36,137.5 956.68,137.5 957.01,137.5 957.34,137.5 957.66,145.7 957.99,145.7 958.31,137.5 958.64,137.5 958.96,145.7 959.29,129.2 959.61,129.2 959.94,129.2 960.27,137.5 960.59,145.7 960.92,129.2 961.24,137.5 961.57,137.5 961.89,137.5 962.22,137.5 962.54,145.7 962.87,119.0 963.19,137.5 963.52,129.2 963.85,129.2 964.17,137.5 964.50,137.5 964.82,129.2 965.15,120.9 965.47,137.5 965.80,137.5 966.12,137.5 966.45,137.5 966.77,129.2 967.10,129.2 967.43,137.5 967.75,129.2 968.08,137.5 968.40,129.2 968.73,137.5 969.05,129.2 969.38,137.5 969.70,129.2 970.03,145.7 970.35,137.5 970.68,137.5 971.01,129.2 971.33,137.5 971.66,137.5 971.98,137.5 972.31,137.5 972.63,137.5 972.96,137.5 973.28,137.5 973.61,137.5 973.93,129.2 974.26,137.5 974.59,137.5 974.91,145.7 975.24,137.5 975.56,129.2 975.89,137.5 976.21,120.9 976.54,137.5 976.86,137.5 977.19,137.5 977.51,129.2 977.84,137.5 978.17,120.9 978.49,120.9 978.82,137.5 979.14,120.9 979.47,120.9 979.79,120.9 980.12,120.9 980.44,120.9 980.77,129.2 981.09,120.9 981.42,120.9 981.75,120.9 982.07,112.7 982.40,96.1 982.72,104.4 983.05,112.7 983.37,112.7 983.70,129.2 984.02,112.7 984.35,120.9 984.67,120.9 985.00,112.7"/>
<g shape-rendering="crispEdges">
<line x1="88.5" y1="526" x2="88.5" y2="30" stroke="#000" stroke-width="1" stroke-dasharray="4 4" stroke-dashoffset="3"/>
<line x1="128.5" y1="526" x2="127.5" y2="30" stroke="#000" stroke-width="1" stroke-dasharray="4 4" stroke-dashoffset="3"/>
<line x1="168.5" y1="526" x2="167.5" y2="30" stroke="#000" stroke-width="1" stroke-dasharray="4 4" stroke-dashoffset="3"/>
<line x1="206.5" y1="526" x2="204.5" y2="30" stroke="#000" stroke-width="1" stroke-dasharray="4 4" stroke-dashoffset="3"/>
<line x1="245.5" y1="526" x2="243.5" y2="30" stroke="#000" stroke-width="1" stroke-dasharray="4 4" stroke-dashoffset="3"/>
<line x1="285.5" y1="526" x2="282.5" y2="30" stroke="#000" stroke-width="1" stroke-dasharray="4 4" stroke-dashoffset="3"/>
<line x1="325.5" y1="526" x2="322.5" y2="30" stroke="#000" stroke-width="1" stroke-dasharray="4 4" stroke-dashoffset="3"/>
<line x1="365.5" y1="526" x2="361.5" y2="30" stroke="#000" stroke-width="1" stroke-dasharray="4 4" stroke-dashoffset="3"/>
<line x1="406.5" y1="526" x2="402.5" y2="30" stroke="#000" stroke-width="1" stroke-dasharray="4 4" stroke-dashoffset="3"/>
<line x1="445.5" y1="526" x2="441.5" y2="30" stroke="#000" stroke-width="1" stroke-dasharray="4 4" stroke-dashoffset="3"/>
<line x1="485.5" y1="526" x2="480.5" y2="30" stroke="#000" stroke-width="1" stroke-dasharray="4 4" stroke-dashoffset="3"/>
<line x1="524.5" y1="526" x2="519.5" y2="30" stroke="#000" stroke-width="1" stroke-dasharray="4 4" stroke-dashoffset="3"/>
<line x1="562.5" y1="526" x2="557.5" y2="30" stroke="#000" stroke-width="1" stroke-dasharray="4 4" stroke-dashoffset="3"/>
<line x1="601.5" y1="526" x2="595.5" y2="30" stroke="#000" stroke-width="1" stroke-dasharray="4 4" stroke-dashoffset="3"/>
<line x1="641.5" y1="526" x2="635.5" y2="30" stroke="#000" stroke-width="1" stroke-dasharray="4 4" stroke-dashoffset="3"/>
<line x1="680.5" y1="526" x2="674.5" y2="30" stroke="#000" stroke-width="1" stroke-dasharray="4 4" stroke-dashoffset="3"/>
<line x1="719.5" y1="526" x2="712.5" y2="30" stroke="#000" stroke-width="1" stroke-dasharray="4 4" stroke-dashoffset="3"/>
<line x1="760.5" y1="526" x2="752.5" y2="30" stroke="#000" stroke-width="1" stroke-dasharray="4 4" stroke-dashoffset="3"/>
<line x1="800.5" y1="526" x2="792.5" y2="30" stroke="#000" stroke-width="1" stroke-dasharray="4 4" stroke-dashoffset="3"/>
<line x1="839.5" y1="526" x2="831.5" y2="30" stroke="#000" stroke-width="1" stroke-dasharray="4 4" stroke-dashoffset="3"/>
<line x1="879.5" y1="526" x2="870.5" y2="30" stroke="#000" stroke-width="1" stroke-dasharray="4 4" stroke-dashoffset="3"/>
<line x1="918.5" y1="526" x2="909.5" y2="30" stroke="#000" stroke-width="1" stroke-dasharray="4 4" stroke-dashoffset="3"/>
<line x1="956.5" y1="526" x2="946.5" y2="30" stroke="#000" stroke-width="1" stroke-dasharray="4 4" stroke-dashoffset="3"/>
<rect x="48" y="30" width="1" height="497" fill="#000"/>
<rect x="985" y="30" width="1" height="497" fill="#000"/>
<rect x="48" y="526" width="938" height="1" fill="#000"/>
<rect x="43" y="30" width="9" height="1" fill="#000"/>
<rect x="43" y="195" width="9" height="1" fill="#000"/>
<rect x="43" y="360" width="9" height="1" fill="#000"/>
<rect x="43" y="526" width="9" height="1" fill="#000"/>
<rect x="982" y="526" width="9" height="1" fill="#000"/>
<rect x="982" y="402" width="9" height="1" fill="#000"/>
<rect x="982" y="278" width="9" height="1" fill="#000"/>
<rect x="982" y="154" width="9" height="1" fill="#000"/>
<rect x="982" y="30" width="9" height="1" fill="#000"/>
</g>
<text x="38" y="35.0" font-size="14" text-anchor="end">1014</text>
<text x="38" y="200.0" font-size="14" text-anchor="end">1012</text>
<text x="38" y="365.0" font-size="14" text-anchor="end">1010</text>
<text x="38" y="531.0" font-size="14" text-anchor="end">1008</text>
<text x="995.5" y="531.0" font-size="14">0</text>
<text x="995.5" y="407.0" font-size="14">1</text>
<text x="995.5" y="283.0" font-size="14">2</text>
<text x="995.5" y="159.0" font-size="14">3</text>
<text x="995.5" y="35.0" font-size="14">4</text>
<text class="m" x="412" y="18" font-size="15" stroke-width="0.6" xml:space="preserve"><tspan fill="#00ffff" stroke="#00ffff">Druck</tspan><tspan stroke="#000"> und </tspan><tspan fill="#6a5acd" stroke="#6a5acd">Blitze</tspan><tspan stroke="#000"> am 22.05.2023</tspan></text>
<text transform="translate(53.1,586.5) rotate(-90) scale(0.9,1)" font-size="11.5" x="0.30 6.97 15.08 20.30 26.97 33.63 41.74 46.97 53.63" xml:space="preserve">22<tspan font-weight="bold">.</tspan> 00<tspan font-weight="bold">:</tspan>00</text>
<text transform="translate(93.1,586.5) rotate(-90) scale(0.9,1)" font-size="11.5" x="0.30 6.97 15.08 20.30 26.97 33.63 41.74 46.97 53.63" xml:space="preserve">22<tspan font-weight="bold">.</tspan> 01<tspan font-weight="bold">:</tspan>00</text>
<text transform="translate(132.1,586.5) rotate(-90) scale(0.9,1)" font-size="11.5" x="0.30 6.97 15.08 20.30 26.97 33.63 41.74 46.97 53.63" xml:space="preserve">22<tspan font-weight="bold">.</tspan> 02<tspan font-weight="bold">:</tspan>00</text>
<text transform="translate(172.1,586.5) rotate(-90) scale(0.9,1)" font-size="11.5" x="0.30 6.97 15.08 20.30 26.97 33.63 41.74 46.97 53.63" xml:space="preserve">22<tspan font-weight="bold">.</tspan> 03<tspan font-weight="bold">:</tspan>00</text>
<text transform="translate(209.1,586.5) rotate(-90) scale(0.9,1)" font-size="11.5" x="0.30 6.97 15.08 20.30 26.97 33.63 41.74 46.97 53.63" xml:space="preserve">22<tspan font-weight="bold">.</tspan> 04<tspan font-weight="bold">:</tspan>00</text>
<text transform="translate(248.1,586.5) rotate(-90) scale(0.9,1)" font-size="11.5" x="0.30 6.97 15.08 20.30 26.97 33.63 41.74 46.97 53.63" xml:space="preserve">22<tspan font-weight="bold">.</tspan> 05<tspan font-weight="bold">:</tspan>00</text>
<text transform="translate(287.1,586.5) rotate(-90) scale(0.9,1)" font-size="11.5" x="0.30 6.97 15.08 20.30 26.97 33.63 41.74 46.97 53.63" xml:space="preserve">22<tspan font-weight="bold">.</tspan> 06<tspan font-weight="bold">:</tspan>00</text>
<text transform="translate(327.1,586.5) rotate(-90) scale(0.9,1)" font-size="11.5" x="0.30 6.97 15.08 20.30 26.97 33.63 41.74 46.97 53.63" xml:space="preserve">22<tspan font-weight="bold">.</tspan> 07<tspan font-weight="bold">:</tspan>00</text>
<text transform="translate(366.1,586.5) rotate(-90) scale(0.9,1)" font-size="11.5" x="0.30 6.97 15.08 20.30 26.97 33.63 41.74 46.97 53.63" xml:space="preserve">22<tspan font-weight="bold">.</tspan> 08<tspan font-weight="bold">:</tspan>00</text>
<text transform="translate(407.1,586.5) rotate(-90) scale(0.9,1)" font-size="11.5" x="0.30 6.97 15.08 20.30 26.97 33.63 41.74 46.97 53.63" xml:space="preserve">22<tspan font-weight="bold">.</tspan> 09<tspan font-weight="bold">:</tspan>00</text>
<text transform="translate(446.1,586.5) rotate(-90) scale(0.9,1)" font-size="11.5" x="0.30 6.97 15.08 20.30 26.97 33.63 41.74 46.97 53.63" xml:space="preserve">22<tspan font-weight="bold">.</tspan> 10<tspan font-weight="bold">:</tspan>00</text>
<text transform="translate(485.1,586.5) rotate(-90) scale(0.9,1)" font-size="11.5" x="0.30 6.97 15.08 20.30 26.97 33.63 41.74 46.97 53.63" xml:space="preserve">22<tspan font-weight="bold">.</tspan> 11<tspan font-weight="bold">:</tspan>00</text>
<text transform="translate(524.1,586.5) rotate(-90) scale(0.9,1)" font-size="11.5" x="0.30 6.97 15.08 20.30 26.97 33.63 41.74 46.97 53.63" xml:space="preserve">22<tspan font-weight="bold">.</tspan> 12<tspan font-weight="bold">:</tspan>00</text>
<text transform="translate(562.1,586.5) rotate(-90) scale(0.9,1)" font-size="11.5" x="0.30 6.97 15.08 20.30 26.97 33.63 41.74 46.97 53.63" xml:space="preserve">22<tspan font-weight="bold">.</tspan> 13<tspan font-weight="bold">:</tspan>00</text>
<text transform="translate(600.1,586.5) rotate(-90) scale(0.9,1)" font-size="11.5" x="0.30 6.97 15.08 20.30 26.97 33.63 41.74 46.97 53.63" xml:space="preserve">22<tspan font-weight="bold">.</tspan> 14<tspan font-weight="bold">:</tspan>00</text>
<text transform="translate(640.1,586.5) rotate(-90) scale(0.9,1)" font-size="11.5" x="0.30 6.97 15.08 20.30 26.97 33.63 41.74 46.97 53.63" xml:space="preserve">22<tspan font-weight="bold">.</tspan> 15<tspan font-weight="bold">:</tspan>00</text>
<text transform="translate(679.1,586.5) rotate(-90) scale(0.9,1)" font-size="11.5" x="0.30 6.97 15.08 20.30 26.97 33.63 41.74 46.97 53.63" xml:space="preserve">22<tspan font-weight="bold">.</tspan> 16<tspan font-weight="bold">:</tspan>00</text>
<text transform="translate(717.1,586.5) rotate(-90) scale(0.9,1)" font-size="11.5" x="0.30 6.97 15.08 20.30 26.97 33.63 41.74 46.97 53.63" xml:space="preserve">22<tspan font-weight="bold">.</tspan> 17<tspan font-weight="bold">:</tspan>00</text>
<text transform="translate(757.1,586.5) rotate(-90) scale(0.9,1)" font-size="11.5" x="0.30 6.97 15.08 20.30 26.97 33.63 41.74 46.97 53.63" xml:space="preserve">22<tspan font-weight="bold">.</tspan> 18<tspan font-weight="bold">:</tspan>00</text>
<text transform="translate(797.1,586.5) rotate(-90) scale(0.9,1)" font-size="11.5" x="0.30 6.97 15.08 20.30 26.97 33.63 41.74 46.97 53.63" xml:space="preserve">22<tspan font-weight="bold">.</tspan> 19<tspan font-weight="bold">:</tspan>00</text>
<text transform="translate(836.1,586.5) rotate(-90) scale(0.9,1)" font-size="11.5" x="0.30 6.97 15.08 20.30 26.97 33.63 41.74 46.97 53.63" xml:space="preserve">22<tspan font-weight="bold">.</tspan> 20<tspan font-weight="bold">:</tspan>00</text>
<text transform="translate(875.4,586.5) rotate(-90) scale(0.9,1)" font-size="11.5" x="0.30 6.97 15.08 20.30 26.97 33.63 41.74 46.97 53.63" xml:space="preserve">22<tspan font-weight="bold">.</tspan> 21<tspan font-weight="bold">:</tspan>00</text>
<text transform="translate(914.6,586.5) rotate(-90) scale(0.9,1)" font-size="11.5" x="0.30 6.97 15.08 20.30 26.97 33.63 41.74 46.97 53.63" xml:space="preserve">22<tspan font-weight="bold">.</tspan> 22<tspan font-weight="bold">:</tspan>00</text>
<text transform="translate(952.7,586.5) rotate(-90) scale(0.9,1)" font-size="11.5" x="0.30 6.97 15.08 20.30 26.97 33.63 41.74 46.97 53.63" xml:space="preserve">22<tspan font-weight="bold">.</tspan> 23<tspan font-weight="bold">:</tspan>00</text>
<text class="m" transform="translate(9.2,602) scale(0.926,1)" font-size="9" font-weight="bold" xml:space="preserve">Letzte Aktualisierung: 23.05.2023, 00:02:30 Uhr</text>
<text class="m" transform="translate(834.6,602) scale(0.926,1)" font-size="9" font-weight="bold" xml:space="preserve">Datenstand: 22.05.2023, 23:59:59 Uhr</text>
</svg></body></html>
